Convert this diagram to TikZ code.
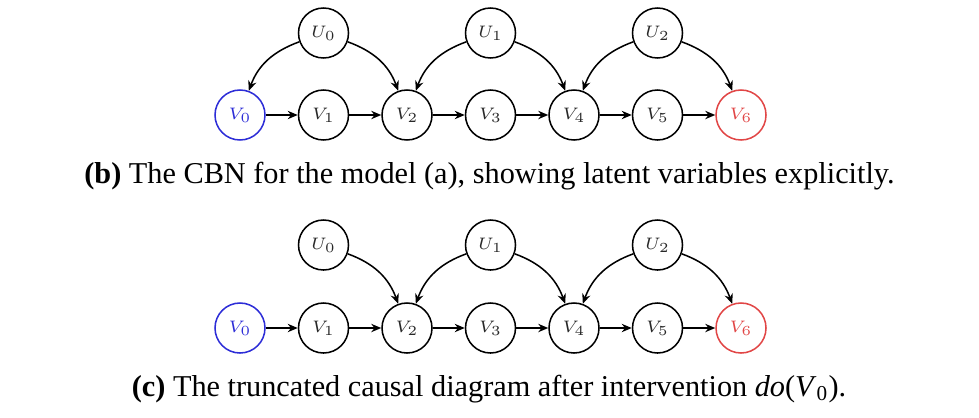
\documentclass[tikz,border=0pt]{standalone}
\usepackage{fontspec}
\setmainfont{Liberation Serif}
\usetikzlibrary{arrows.meta}
\definecolor{vblue}{RGB}{45,45,215}
\definecolor{vred}{RGB}{225,70,70}
\definecolor{vtext}{RGB}{40,40,40}
\tikzset{
  var/.style={circle,draw=black,line width=0.55pt,minimum size=18pt,inner sep=0pt,font=\fontsize{6}{7}\selectfont,text=vtext},
  bluevar/.style={var,draw=vblue,text=vblue},
  redvar/.style={var,draw=vred,text=vred},
  edge/.style={-{Stealth[length=3.6pt,width=3pt]},line width=0.55pt},
  caption/.style={font=\fontsize{10.9}{12}\selectfont,inner sep=0pt}
}
\begin{document}
\begin{tikzpicture}[x=0.36pt,y=-0.36pt]
\useasboundingbox (0,0) rectangle (979,417);
% ---- top diagram (b)
\node[bluevar] (a0) at (240,115) {$V_0$};
\node[var] (a1) at (323.5,115) {$V_1$};
\node[var] (a2) at (407,115) {$V_2$};
\node[var] (a3) at (490.5,115) {$V_3$};
\node[var] (a4) at (574,115) {$V_4$};
\node[var] (a5) at (657.5,115) {$V_5$};
\node[redvar] (a6) at (741,115) {$V_6$};
\node[var] (au0) at (323.5,33) {$U_0$};
\node[var] (au1) at (490.5,33) {$U_1$};
\node[var] (au2) at (657.5,33) {$U_2$};
\foreach \i/\j in {a0/a1,a1/a2,a2/a3,a3/a4,a4/a5,a5/a6} \draw[edge] (\i) -- (\j);
\draw[edge] (au0) to[out=200,in=70] (a0);
\draw[edge] (au0) to[out=-20,in=110] (a2);
\draw[edge] (au1) to[out=200,in=70] (a2);
\draw[edge] (au1) to[out=-20,in=110] (a4);
\draw[edge] (au2) to[out=200,in=70] (a4);
\draw[edge] (au2) to[out=-20,in=110] (a6);
\node[caption] (capb) at (489.5,176) {\textbf{(b)} The CBN for the model (a), showing latent variables explicitly.};
% ---- bottom diagram (c)
\node[bluevar] (b0) at (240,328) {$V_0$};
\node[var] (b1) at (323.5,328) {$V_1$};
\node[var] (b2) at (407,328) {$V_2$};
\node[var] (b3) at (490.5,328) {$V_3$};
\node[var] (b4) at (574,328) {$V_4$};
\node[var] (b5) at (657.5,328) {$V_5$};
\node[redvar] (b6) at (741,328) {$V_6$};
\node[var] (bu0) at (323.5,245) {$U_0$};
\node[var] (bu1) at (490.5,245) {$U_1$};
\node[var] (bu2) at (657.5,245) {$U_2$};
\foreach \i/\j in {b0/b1,b1/b2,b2/b3,b3/b4,b4/b5,b5/b6} \draw[edge] (\i) -- (\j);
\draw[edge] (bu0) to[out=-20,in=110] (b2);
\draw[edge] (bu1) to[out=200,in=70] (b2);
\draw[edge] (bu1) to[out=-20,in=110] (b4);
\draw[edge] (bu2) to[out=200,in=70] (b4);
\draw[edge] (bu2) to[out=-20,in=110] (b6);
\node[caption] (capc) at (489,389) {\textbf{(c)} The truncated causal diagram after intervention \textit{do}(\textit{V}\textsubscript{0}).};
\end{tikzpicture}
\end{document}
